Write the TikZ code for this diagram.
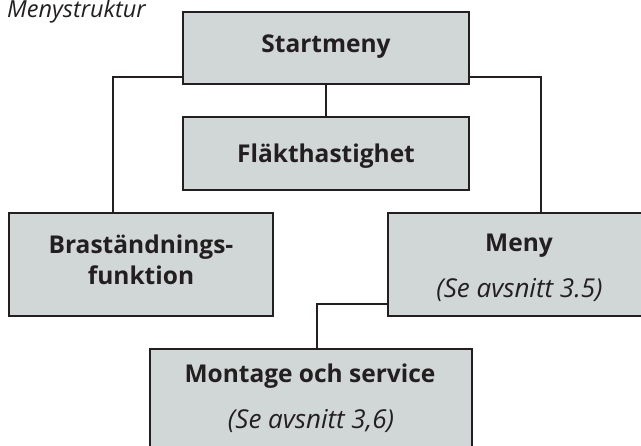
\documentclass[tikz,border=0pt]{standalone}
\usepackage{fontspec}
\setmainfont{Open Sans}
\definecolor{boxfill}{HTML}{D1D6D7}
\definecolor{ink}{HTML}{231F20}
\begin{document}
\begin{tikzpicture}[x=1pt,y=-1pt,
  box/.style={draw=ink,line width=2.4pt,fill=boxfill,rectangle,inner sep=0pt},
  lbl/.style={text=ink,font=\fontsize{24.5}{31}\selectfont\bfseries,align=center,inner sep=0pt,anchor=base},
  ref/.style={text=ink,font=\fontsize{26}{30}\selectfont\itshape,inner sep=0pt,anchor=base},
  conn/.style={draw=ink,line width=2.4pt}]
\useasboundingbox (0,0) rectangle (641,446);
\clip (0,0) rectangle (641,446);
\node[text=ink,font=\fontsize{23.5}{28}\selectfont\itshape,anchor=base west,inner sep=0pt] (title) at (7,18) {Menystruktur};
\node[box,minimum width=286pt,minimum height=72pt] (start) at (326,48) {};
\node[lbl] (starttxt) at (326,53) {Startmeny};
\node[box,minimum width=286pt,minimum height=73pt] (flakt) at (326,153.5) {};
\node[lbl] (flakttxt) at (326,163) {Fläkthastighet};
\node[box,minimum width=264pt,minimum height=103pt] (bras) at (141,264.5) {};
\node[lbl] (brastxt) at (141,285) {Braständnings-\\funktion};
\node[box,minimum width=262pt,minimum height=103pt] (meny) at (519,264.5) {};
\node[lbl] (menytxt) at (519,252) {Meny};
\node[ref] (menyref) at (519.5,298) {(Se avsnitt 3.5)};
\node[box,minimum width=322pt,minimum height=113pt] (mont) at (311,405.5) {};
\node[lbl] (monttxt) at (310,383) {Montage och service};
\node[ref] (montref) at (311,429) {(Se avsnitt 3,6)};
\draw[conn] (start.south) -- (flakt.north);
\draw[conn] ([yshift=8pt]start.south west) -| ([xshift=-28pt]bras.north);
\draw[conn] ([yshift=8pt]start.south east) -| ([xshift=22pt]meny.north);
\draw[conn] ([yshift=13pt]meny.south west) -| ([xshift=6pt]mont.north);
\end{tikzpicture}
\end{document}
